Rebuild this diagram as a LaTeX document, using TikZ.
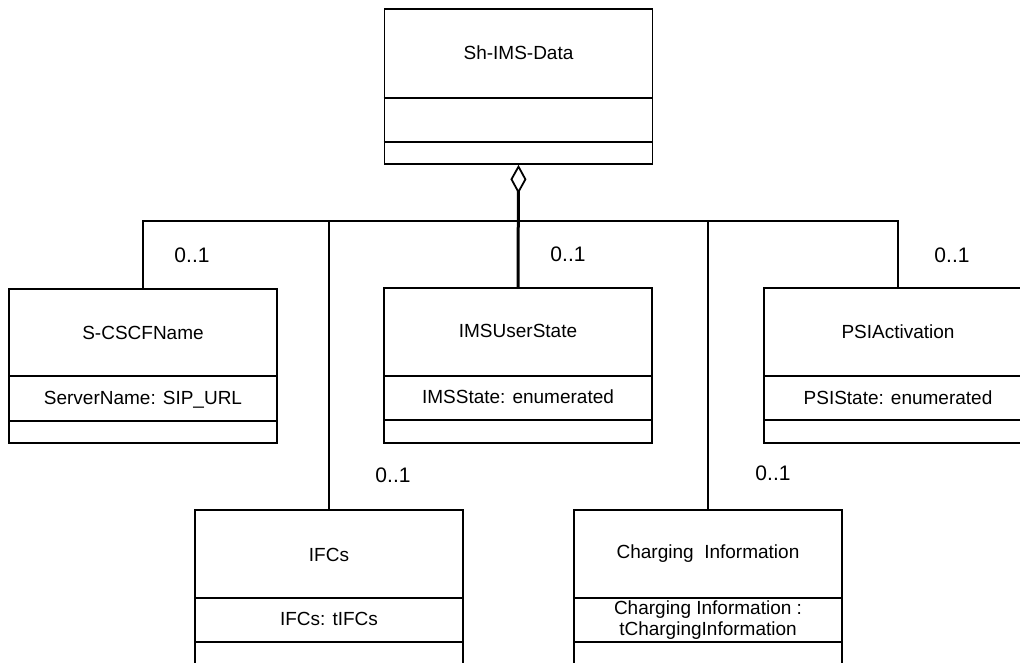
\documentclass[tikz,border=0pt]{standalone}
\usepackage{fontspec}
\setmainfont{Liberation Sans}
\usetikzlibrary{arrows.meta}
\tikzset{
  classbox/.style={draw, line width=1.8pt, minimum width=268pt, inner sep=0pt, anchor=north},
  sepline/.style={line width=1.8pt},
  lbl/.style={inner sep=0pt, font=\fontsize{19}{21}\selectfont, text height=13.6pt, text depth=0pt, align=center},
  mult/.style={inner sep=0pt, font=\fontsize{21}{23}\selectfont, text height=15pt, text depth=0pt},
  conn/.style={line width=1.8pt},
  aggr/.style={line width=3pt, {Diamond[open, length=29pt, width=16pt, line width=1.8pt]}-}
}
\begin{document}
\begin{tikzpicture}[x=1pt, y=-1pt]
\useasboundingbox (0,0) rectangle (1020,663);
\clip (0,0) rectangle (1020,663);
\fill[white] (0,0) rectangle (1020,663);

% top class
\node[classbox, minimum height=155pt] (top) at (518.5,8) {};
\draw[sepline] (top.west |- 0,98) -- (top.east |- 0,98);
\draw[sepline] (top.west |- 0,142) -- (top.east |- 0,142);
\node[lbl] (topname) at (518.5,53) {Sh-IMS-Data};

% S-CSCFName
\node[classbox, minimum height=154pt] (scscf) at (143,288) {};
\draw[sepline] (scscf.west |- 0,376) -- (scscf.east |- 0,376);
\draw[sepline] (scscf.west |- 0,421) -- (scscf.east |- 0,421);
\node[lbl] (scscfname) at (143,333) {S-CSCFName};
\node[lbl] (scscfattr) at (143,398) {ServerName: SIP\_URL};

% IMSUserState
\node[classbox, minimum height=155pt] (ims) at (518,287) {};
\draw[sepline] (ims.west |- 0,376) -- (ims.east |- 0,376);
\draw[sepline] (ims.west |- 0,420) -- (ims.east |- 0,420);
\node[lbl] (imsname) at (518,331) {IMSUserState};
\node[lbl] (imsattr) at (518,397) {IMSState: enumerated};

% PSIActivation
\node[classbox, minimum height=155pt] (psi) at (898,287) {};
\draw[sepline] (psi.west |- 0,376) -- (psi.east |- 0,376);
\draw[sepline] (psi.west |- 0,420) -- (psi.east |- 0,420);
\node[lbl] (psiname) at (898,332) {PSIActivation};
\node[lbl] (psiattr) at (898,398) {PSIState: enumerated};

% IFCs
\node[classbox, minimum height=158pt] (ifcs) at (329,509) {};
\draw[sepline] (ifcs.west |- 0,598) -- (ifcs.east |- 0,598);
\draw[sepline] (ifcs.west |- 0,642) -- (ifcs.east |- 0,642);
\node[lbl] (ifcsname) at (329,555) {IFCs};
\node[lbl] (ifcsattr) at (329,619) {IFCs: tIFCs};

% Charging Information
\node[classbox, minimum height=158pt] (chg) at (708,509) {};
\draw[sepline] (chg.west |- 0,598) -- (chg.east |- 0,598);
\draw[sepline] (chg.west |- 0,642) -- (chg.east |- 0,642);
\node[lbl] (chgname) at (708,552) {Charging\ \ Information};
\node[lbl, text height=34.6pt] (chgattr) at (708,618.5) {Charging Information :\\tChargingInformation};

% connectors
\coordinate (bus) at (518,221);
\draw[conn] (scscf.north) |- (bus);
\draw[conn] (psi.north) |- (bus);
\draw[conn] (ifcs.north) -- (ifcs.north |- bus);
\draw[conn] (chg.north) -- (chg.north |- bus);
\draw[aggr] (top.south) -- (ims.north);

% multiplicities
\node[mult] (m1) at (192,255) {0..1};
\node[mult] (m2) at (568,254) {0..1};
\node[mult] (m3) at (952,255) {0..1};
\node[mult] (m4) at (393,475) {0..1};
\node[mult] (m5) at (773,473) {0..1};
\end{tikzpicture}
\end{document}
